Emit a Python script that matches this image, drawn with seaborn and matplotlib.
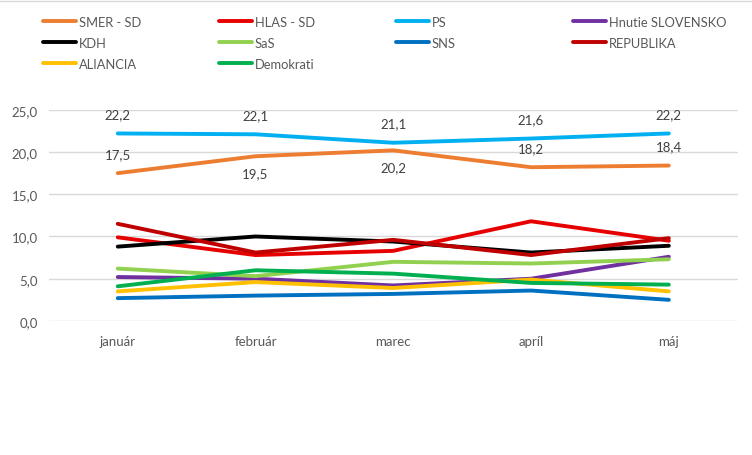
import pandas as pd
import matplotlib.pyplot as plt
import seaborn as sns
from matplotlib.lines import Line2D

months = ["január", "február", "marec", "apríl", "máj"]

smer = [17.5, 19.5, 20.2, 18.2, 18.4]
hlas = [9.9, 7.8, 8.3, 11.8, 9.5]
ps = [22.2, 22.1, 21.1, 21.6, 22.2]
hnutie = [5.2, 5.0, 4.2, 5.0, 7.6]
kdh = [8.8, 10.0, 9.4, 8.1, 8.9]
sas = [6.2, 5.3, 7.0, 6.8, 7.3]
sns_party = [2.7, 3.0, 3.2, 3.6, 2.5]
republika = [11.5, 8.1, 9.6, 7.8, 9.8]
aliancia = [3.5, 4.6, 3.9, 4.9, 3.5]
demokrati = [4.1, 6.0, 5.6, 4.5, 4.3]

parties = ["SMER - SD", "HLAS - SD", "PS", "Hnutie SLOVENSKO", "KDH",
           "SaS", "SNS", "REPUBLIKA", "ALIANCIA", "Demokrati"]
values = [smer, hlas, ps, hnutie, kdh, sas, sns_party, republika, aliancia, demokrati]
colors = ["#ED7D31", "#E60000", "#00B0F0", "#7030A0", "#000000",
          "#92D050", "#0070C0", "#C00000", "#FFC000", "#00B050"]

# which side of the point the SMER labels sit on
smer_label_side = ["above", "below", "below", "above", "above"]

rows = []
for party, vals in zip(parties, values):
    for m, v in zip(months, vals):
        rows.append({"mesiac": m, "strana": party, "hodnota": v})
df = pd.DataFrame(rows)

sns.set_style("white")
plt.rcParams["font.family"] = ["Lato", "DejaVu Sans"]

fig = plt.figure(figsize=(7.52, 4.56), dpi=100)
ax = fig.add_axes([0.065, 0.294, 0.916, 0.463])

palette = dict(zip(parties, colors))
sns.lineplot(data=df, x="mesiac", y="hodnota", hue="strana", hue_order=parties,
             palette=palette, linewidth=2.8, sort=False, legend=False, ax=ax)

ax.set_xlim(-0.5, 4.5)
ax.set_ylim(0, 25)
ax.set_yticks([0, 5, 10, 15, 20, 25])
ax.set_yticklabels([f"{t:.1f}".replace(".", ",") for t in [0, 5, 10, 15, 20, 25]])
ax.set_xticks(range(len(months)))
ax.set_xticklabels(months)
ax.grid(axis="y", color="#D9D9D9", linewidth=1)
ax.set_axisbelow(True)
for s in ax.spines.values():
    s.set_visible(False)
ax.tick_params(axis="both", length=0, colors="#595959", labelsize=9.5)
ax.tick_params(axis="x", pad=10)
ax.tick_params(axis="y", pad=8)
ax.set_xlabel("")
ax.set_ylabel("")

# data labels
for i, v in enumerate(ps):
    ax.annotate(f"{v:.1f}".replace(".", ","), (i, v), xytext=(0, 14),
                textcoords="offset points", ha="center", va="center",
                fontsize=9.5, color="#404040")
for i, v in enumerate(smer):
    off = 14 if smer_label_side[i] == "above" else -12
    ax.annotate(f"{v:.1f}".replace(".", ","), (i, v), xytext=(0, off),
                textcoords="offset points", ha="center", va="center",
                fontsize=9.5, color="#404040")

# legend: four columns placed like the original
columns = [[0, 4, 8], [1, 5, 9], [2, 6], [3, 7]]
col_x = [43, 219, 396, 573]
for col, x in zip(columns, col_x):
    handles = [Line2D([], [], color=colors[k], linewidth=2.8) for k in col]
    labels = [parties[k] for k in col]
    leg = fig.legend(handles, labels, loc="upper left",
                     bbox_to_anchor=(x / 752, 1 - 17 / 456),
                     frameon=False, borderpad=0, borderaxespad=0,
                     handlelength=2.55, handletextpad=0.2,
                     labelspacing=0.68, fontsize=9.3)
    for t in leg.get_texts():
        t.set_color("#595959")

# thin chart border line at the top
fig.add_artist(Line2D([0, 1], [1 - 1.5 / 456, 1 - 1.5 / 456],
                      color="#D9D9D9", linewidth=1, transform=fig.transFigure))

fig.savefig("out.png", dpi=100)
